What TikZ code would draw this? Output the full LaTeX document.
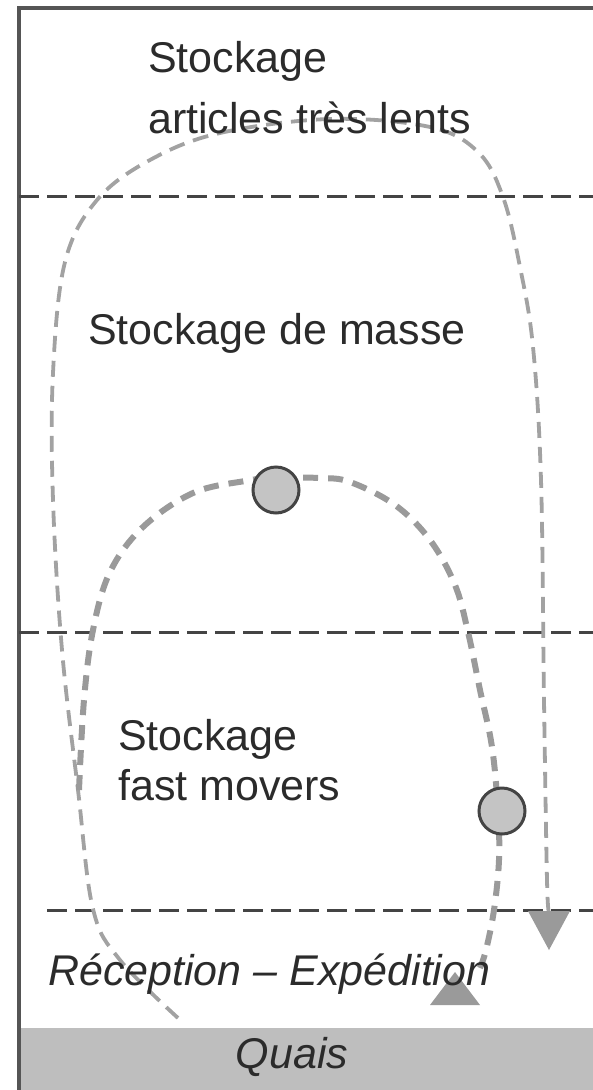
\documentclass[tikz,border=0pt]{standalone}
\usepackage{fontspec}
\setmainfont{Liberation Sans}
\definecolor{framegray}{HTML}{555555}
\definecolor{zonegray}{HTML}{444444}
\definecolor{flowgray}{HTML}{A2A2A2}
\definecolor{flowdark}{HTML}{9A9A9A}
\definecolor{quaisgray}{HTML}{BEBEBE}
\definecolor{stationfill}{HTML}{C4C4C4}
\definecolor{textgray}{HTML}{2B2B2B}
\tikzset{
  frameline/.style={draw=framegray, line width=3.5pt},
  zoneline/.style={draw=zonegray, line width=3pt, dash pattern=on 20pt off 8pt},
  outerflow/.style={draw=flowgray, line width=3.8pt, dash pattern=on 16pt off 9pt},
  innerflow/.style={draw=flowdark, line width=6pt, dash pattern=on 15pt off 10pt},
  arrowtri/.style={fill=flowdark},
  station/.style={circle, minimum size=46pt, inner sep=0pt, fill=stationfill, draw=zonegray, line width=3pt},
  lbl/.style={inner sep=0pt, anchor=base west, text=textgray, font=\fontsize{43}{50}\selectfont},
  lbli/.style={lbl, font=\fontsize{43}{50}\selectfont\itshape},
}
\begin{document}
\begin{tikzpicture}[x=1pt,y=-1pt]
\useasboundingbox (0,0) rectangle (593,1090);
% dock band
\fill[quaisgray] (19,1028) rectangle (593,1090);
% frame
\draw[frameline] (19,1090) -- (19,8) -- (593,8);
% zone separators
\coordinate (z1a) at (19,196);  \coordinate (z1b) at (593,196);
\coordinate (z2a) at (19,632);  \coordinate (z2b) at (593,632);
\coordinate (z3a) at (47,910);  \coordinate (z3b) at (593,910);
\draw[zoneline] (z1a) -- (z1b);
\draw[zoneline] (z2a) -- (z2b);
\draw[zoneline] (z3a) -- (z3b);
% outer flow (very slow articles)
\draw[outerflow] plot[smooth, tension=0.6] coordinates {(178,1018) (120,960) (93,909) (78,790) (62,650) (53,500) (53,373) (65,262) (97,200) (150,160) (220,133) (330,119) (430,127) (478,152) (503,197) (520,267) (533,347) (541,480) (544,700) (547,880) (549,912)};
\fill[arrowtri] (528,911) -- (570,911) -- (549,950) -- cycle;
% inner flow (mass storage / fast movers)
\draw[innerflow] plot[smooth, tension=0.6] coordinates {(79,790) (84,700) (93,630) (110,572) (143,527) (193,493) (245,481) (276,478) (320,478) (350,482) (395,505) (430,540) (455,585) (468,632) (480,690) (492,747) (498,811) (499,860) (494,910) (486,950) (480,968)};
\fill[arrowtri] (430,1005) -- (480,1005) -- (455,972) -- cycle;
% stations
\node[station] (c1) at (276,490) {};
\node[station] (c2) at (502,811) {};
% labels
\node[lbl] (t1) at (148,72) {Stockage};
\node[lbl] (t2) at (148,133) {articles très lents};
\node[lbl] (t3) at (88,344) {Stockage de masse};
\node[lbl] (t4) at (118,750) {Stockage};
\node[lbl] (t5) at (118,800) {fast movers};
\node[lbli] (t6) at (48,985) {Réception -- Expédition};
\node[lbli, anchor=base] (t7) at (292,1068) {Quais};
\end{tikzpicture}
\end{document}
